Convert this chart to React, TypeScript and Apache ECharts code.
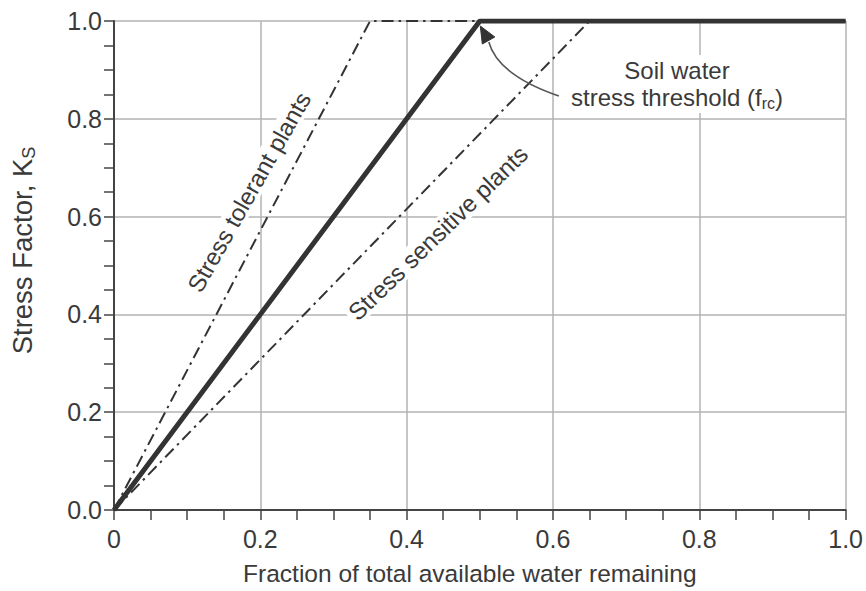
import React, { useEffect, useRef } from "react";
import * as echarts from "echarts";

// Data (fraction of total available water remaining -> stress factor Ks)
const thresholdX = [0, 0.5, 1.0];
const thresholdY = [0, 1.0, 1.0];
const tolerantX = [0, 0.35, 0.5];
const tolerantY = [0, 1.0, 1.0];
const sensitiveX = [0, 0.65, 1.0];
const sensitiveY = [0, 1.0, 1.0];

const xTickLabels = ["0", "0.2", "0.4", "0.6", "0.8", "1.0"];
const yTickLabels = ["0.0", "0.2", "0.4", "0.6", "0.8", "1.0"];

const FONT = "'Liberation Sans', Arial, Helvetica, sans-serif";
const TEXT = "#3a3a3a";
const AXIS = "#444444";
const GRID = "#b3b3b3";

const zip = (xs: number[], ys: number[]) => xs.map((x, i) => [x, ys[i]]);

export default function App() {
  const ref = useRef<HTMLDivElement>(null);

  useEffect(() => {
    if (!ref.current) return;
    const chart = echarts.init(ref.current, null, { renderer: "svg" });

    const axisCommon = {
      type: "value" as const,
      min: 0,
      max: 1,
      interval: 0.2,
      axisLine: { show: true, onZero: false, lineStyle: { color: AXIS, width: 2 } },
      axisTick: { show: true, length: 10, lineStyle: { color: AXIS, width: 1.5 } },
      minorTick: { show: true, splitNumber: 4, length: 10, lineStyle: { color: AXIS, width: 1.5 } },
      splitLine: { show: true, lineStyle: { color: GRID, width: 1.5 } },
      minorSplitLine: { show: false },
    };

    const option: any = {
      animation: false,
      grid: { left: 113, right: 20, top: 21, bottom: 80, containLabel: false },
      xAxis: {
        ...axisCommon,
        name: "Fraction of total available water remaining",
        nameLocation: "middle",
        nameGap: 51,
        nameTextStyle: { fontSize: 24.5, color: TEXT, fontFamily: FONT, padding: [0, 20, 0, 0] },
        axisLabel: {
          fontSize: 25,
          color: TEXT,
          fontFamily: FONT,
          margin: 16,
          formatter: (v: number) => xTickLabels[Math.round(v * 5)] ?? "",
        },
      },
      yAxis: {
        ...axisCommon,
        name: "{a|Stress Factor, K}{b|S}",
        nameLocation: "middle",
        nameRotate: 90,
        nameGap: 76,
        nameTextStyle: {
          fontFamily: FONT,
          color: TEXT,
          padding: [0, 0, 0, 30],
          rich: {
            a: { fontSize: 27.5, color: TEXT, fontFamily: FONT, lineHeight: 32 },
            b: { fontSize: 18, color: TEXT, fontFamily: FONT, lineHeight: 16, verticalAlign: "bottom" },
          },
        },
        axisLabel: {
          fontSize: 25,
          color: TEXT,
          fontFamily: FONT,
          margin: 12,
          formatter: (v: number) => yTickLabels[Math.round(v * 5)] ?? "",
        },
      },
      series: [
        {
          name: "Stress tolerant plants",
          type: "line",
          data: zip(tolerantX, tolerantY),
          symbol: "none",
          lineStyle: { color: "#333", width: 2, type: [12, 5, 2.5, 5] },
          z: 3,
        },
        {
          name: "Stress sensitive plants",
          type: "line",
          data: zip(sensitiveX, sensitiveY),
          symbol: "none",
          lineStyle: { color: "#333", width: 2, type: [12, 5, 2.5, 5] },
          z: 3,
        },
        {
          name: "Soil water stress threshold",
          type: "line",
          data: zip(thresholdX, thresholdY),
          symbol: "none",
          lineStyle: { color: "#333", width: 5, type: "solid" },
          z: 5,
        },
      ],
    };

    chart.setOption(option);

    const [cx, cy] = chart.convertToPixel({ gridIndex: 0 }, [0.5, 1.0]) as number[];
    const deg = Math.PI / 180;
    const labelStyle = {
      fontSize: 24,
      fill: TEXT,
      fontFamily: FONT,
      align: "center",
      verticalAlign: "middle",
      backgroundColor: "#fff",
      padding: [0, 3],
    };

    chart.setOption({
      graphic: [
        {
          type: "text",
          x: 249,
          y: 192,
          rotation: 60.5 * deg,
          z: 10,
          style: { ...labelStyle, text: "Stress tolerant plants" },
        },
        {
          type: "text",
          x: 438,
          y: 233,
          rotation: 44 * deg,
          z: 10,
          style: { ...labelStyle, text: "Stress sensitive plants" },
        },
        {
          type: "text",
          x: 677,
          y: 84,
          z: 10,
          style: {
            text: "{n|Soil water}\n{n|stress threshold (f}{s|rc}{n|)}",
            align: "center",
            verticalAlign: "middle",
            backgroundColor: "#fff",
            padding: [2, 4],
            fontFamily: FONT,
            rich: {
              n: { fontSize: 24, fill: TEXT, fontFamily: FONT, lineHeight: 27 },
              s: { fontSize: 16, fill: TEXT, fontFamily: FONT, lineHeight: 14, verticalAlign: "bottom" },
            },
          },
        },
        {
          type: "bezierCurve",
          z: 11,
          shape: {
            x1: cx + 79,
            y1: cy + 75,
            x2: cx + 9,
            y2: cy + 21,
            cpx1: cx + 18,
            cpy1: cy + 54,
          },
          style: { stroke: "#555", lineWidth: 1.6, fill: "none" },
        },
        {
          type: "polygon",
          z: 11,
          shape: {
            points: [
              [cx + 0.5, cy + 5],
              [cx + 2.5, cy + 23],
              [cx + 15, cy + 16],
            ],
          },
          style: { fill: "#333", stroke: "#333", lineWidth: 1 },
        },
      ],
    });

    return () => chart.dispose();
  }, []);

  return (
    <div
      ref={ref}
      style={{ position: "fixed", left: 0, top: 0, width: 866, height: 591, background: "#fff" }}
    />
  );
}
